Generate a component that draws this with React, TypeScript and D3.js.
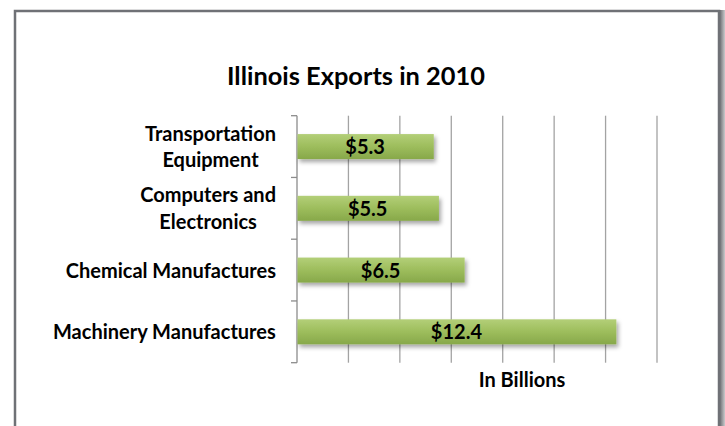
import { scaleBand, scaleLinear, range } from 'd3'

// categories top to bottom, '\n' marks a line break in the label
const categories = [
  'Transportation\nEquipment',
  'Computers and\nElectronics',
  'Chemical Manufactures',
  'Machinery Manufactures',
]
const values = [5.3, 5.5, 6.5, 12.4]
const valueLabels = ['$5.3', '$5.5', '$6.5', '$12.4']
const xTicks = [0, 2, 4, 6, 8, 10, 12, 14]

const title = 'Illinois Exports in 2010'
const axisTitle = 'In Billions'

const W = 725
const H = 426
const FONT = 'Lato, "Open Sans", sans-serif'
const LABEL_SIZE = 20

let ctx: CanvasRenderingContext2D | null = null
function measure(text: string, size: number) {
  if (!ctx) ctx = document.createElement('canvas').getContext('2d')
  if (!ctx) return text.length * size * 0.5
  ctx.font = `bold ${size}px ${FONT}`
  return ctx.measureText(text).width
}

export default function App() {
  const plot = { left: 297, right: 657, top: 115.7, bottom: 362.7 }

  const x = scaleLinear().domain([0, 14]).range([plot.left, plot.right])
  const y = scaleBand()
    .domain(categories)
    .range([plot.top, plot.bottom])
    .paddingInner(0.595)
    .paddingOuter(0.2975)

  const step = y.step()
  const boundaries = range(categories.length + 1).map((i) => plot.top + i * step)
  const labelRight = 276

  return (
    <svg
      width={W}
      height={H}
      style={{ position: 'absolute', left: 0, top: 0, background: '#fff' }}
      fontFamily={FONT}
    >
      <defs>
        <linearGradient id="barFill" x1="0" y1="0" x2="0" y2="1">
          <stop offset="0%" stopColor="#b3cf78" />
          <stop offset="50%" stopColor="#9dbd5c" />
          <stop offset="100%" stopColor="#87a84a" />
        </linearGradient>
        <linearGradient id="edgeShade" x1="0" y1="0" x2="1" y2="0">
          <stop offset="0%" stopColor="#5f6166" />
          <stop offset="100%" stopColor="#c9cacc" />
        </linearGradient>
        <filter id="barShadow" x="-10%" y="-30%" width="120%" height="180%">
          <feDropShadow dx="2" dy="3" stdDeviation="2" floodColor="#000" floodOpacity="0.35" />
        </filter>
      </defs>

      {/* frame */}
      <rect x={719} y={10} width={6} height={H} fill="url(#edgeShade)" />
      <rect x={15} y={11} width={704} height={H + 20} fill="#fff" stroke="#6f7176" strokeWidth={2.5} />

      <text
        x={356}
        y={84.5}
        textAnchor="middle"
        fontSize={25}
        fontWeight="bold"
        fill="#000"
        textLength={258}
        lengthAdjust="spacingAndGlyphs"
      >
        {title}
      </text>

      {/* gridlines */}
      {xTicks
        .filter((t) => t > 0)
        .map((t) => (
          <line
            key={`grid-${t}`}
            x1={x(t)}
            x2={x(t)}
            y1={plot.top}
            y2={plot.bottom}
            stroke="#a3a3a3"
            strokeWidth={1.3}
          />
        ))}

      {/* y axis */}
      <line x1={plot.left} x2={plot.left} y1={plot.top} y2={plot.bottom} stroke="#8c8c8c" strokeWidth={1.3} />
      {boundaries.map((b, i) => (
        <line key={`tick-${i}`} x1={plot.left - 6} x2={plot.left} y1={b} y2={b} stroke="#8c8c8c" strokeWidth={1.3} />
      ))}

      {/* bars */}
      {categories.map((c, i) => (
        <rect
          key={c}
          x={x(0) + 0.5}
          y={y(c)}
          width={x(values[i]) - x(0)}
          height={y.bandwidth()}
          fill="url(#barFill)"
          filter="url(#barShadow)"
        />
      ))}

      {/* value labels */}
      {categories.map((c, i) => (
        <text
          key={`v-${c}`}
          x={(x(0) + x(values[i])) / 2}
          y={(y(c) ?? 0) + y.bandwidth() / 2 + 7.5}
          textAnchor="middle"
          fontSize={LABEL_SIZE}
          fontWeight="bold"
          fill="#000"
        >
          {valueLabels[i]}
        </text>
      ))}

      {/* category labels: block right-aligned, lines centred within it */}
      {categories.map((c) => {
        const lines = c.split('\n')
        const cy = (y(c) ?? 0) + y.bandwidth() / 2
        const lh = 26.7
        const widest = Math.max(...lines.map((ln) => measure(ln, LABEL_SIZE)))
        const cx = labelRight - widest / 2
        return (
          <text key={`l-${c}`} textAnchor="middle" fontSize={LABEL_SIZE} fontWeight="bold" fill="#000">
            {lines.map((ln, j) => (
              <tspan key={j} x={cx} y={cy + 7.5 + (j - (lines.length - 1) / 2) * lh}>
                {ln}
              </tspan>
            ))}
          </text>
        )
      })}

      <text x={522} y={387} textAnchor="middle" fontSize={LABEL_SIZE} fontWeight="bold" fill="#000">
        {axisTitle}
      </text>
    </svg>
  )
}
